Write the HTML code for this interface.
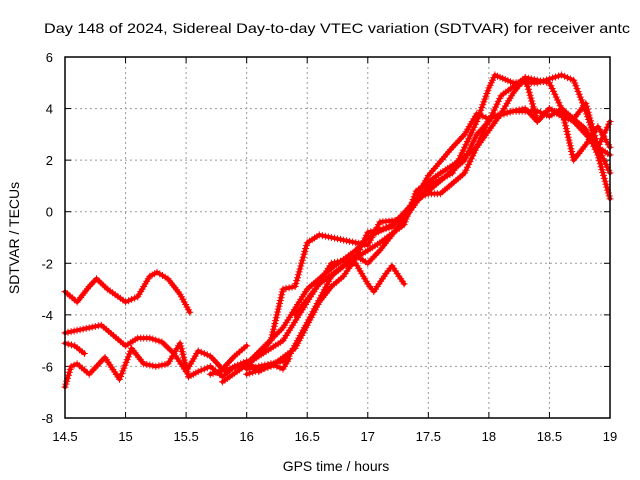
<!DOCTYPE html>
<html><head><meta charset="utf-8"><style>
body{margin:0;background:#fff;}
svg{display:block;font-family:"Liberation Sans",sans-serif;}
</style></head><body>
<svg id="chart" width="640" height="480" viewBox="0 0 640 480">
<text x="44" y="33" font-size="14" textLength="586" lengthAdjust="spacingAndGlyphs">Day 148 of 2024, Sidereal Day-to-day VTEC variation (SDTVAR) for receiver antc</text>
<text transform="translate(19,238) rotate(-90)" text-anchor="middle" font-size="14">SDTVAR / TECUs</text>
<text x="336" y="471" text-anchor="middle" font-size="14">GPS time / hours</text>
<g id="grid"></g>
<g id="ticks"></g>
<g id="series"></g>
<rect x="65" y="57" width="545" height="361" fill="none" stroke="#000" stroke-width="1.5"/>
</svg>
<script>
const xTicks=[14.5,15,15.5,16,16.5,17,17.5,18,18.5,19];
const yTicks=[-8,-6,-4,-2,0,2,4,6];
const s1x=[14.5,14.6,14.7,14.76,14.85,15.0,15.1,15.2,15.26,15.35,15.45,15.53];
const s1y=[-3.1,-3.5,-2.9,-2.6,-3.0,-3.5,-3.3,-2.5,-2.35,-2.6,-3.2,-3.9];
const s2x=[14.5,14.6,14.7,14.8,14.9,15.0,15.1,15.2,15.3,15.4,15.5,15.6,15.7,15.8,15.9,16.0];
const s2y=[-4.7,-4.6,-4.5,-4.4,-4.8,-5.2,-4.9,-4.9,-5.05,-5.5,-6.2,-5.4,-5.6,-6.1,-5.6,-5.2];
const s3x=[14.5,14.55,14.6,14.7,14.8,14.83,14.95,15.05,15.15,15.25,15.35,15.45,15.52,15.6,15.7,15.8,15.9,16.0,16.1,16.2,16.3,16.35];
const s3y=[-6.8,-6.0,-5.9,-6.3,-5.8,-5.65,-6.5,-5.3,-5.9,-6.0,-5.9,-5.1,-6.4,-6.2,-6.0,-6.4,-6.0,-5.8,-6.2,-5.9,-6.1,-5.7];
const s4x=[14.5,14.58,14.66];
const s4y=[-5.1,-5.2,-5.5];
const tax=[16.0,16.2,16.3,16.4,16.5,16.6,16.8,17.0,17.1,17.3,17.5,17.7,17.8,17.9,18.0,18.05,18.2,18.4,18.6,18.7,18.8,18.9,19.0];
const tay=[-6.0,-5.0,-3.0,-2.9,-1.2,-0.9,-1.1,-1.3,-0.4,-0.3,1.0,1.5,2.5,3.5,4.8,5.3,5.0,5.0,5.3,5.1,3.9,2.5,1.5];
const tbx=[15.7,16.0,16.3,16.5,16.7,16.9,17.0,17.2,17.4,17.6,17.8,17.9,18.0,18.1,18.3,18.5,18.6,18.7,18.8,18.9,19.0];
const tby=[-6.3,-5.9,-4.5,-3.0,-2.2,-1.5,-1.0,-0.5,0.4,1.2,2.0,3.0,3.5,4.5,5.2,5.0,4.0,2.0,2.6,3.3,2.5];
const tcx=[15.8,16.1,16.3,16.5,16.7,16.9,17.1,17.3,17.4,17.6,17.7,17.9,18.1,18.3,18.4,18.5,18.7,18.9,19.0];
const tcy=[-6.6,-5.6,-5.0,-3.5,-2.0,-1.8,-1.2,-0.5,0.8,1.5,1.8,2.5,3.8,4.0,3.5,4.0,3.5,2.5,2.2];
const tdx=[16.0,16.2,16.4,16.5,16.6,16.7,16.8,16.9,17.0,17.2,17.4,17.5,17.6,17.8,17.9,18.0,18.2,18.4,18.5,18.6,18.8,18.9,19.0];
const tdy=[-6.3,-6.0,-5.3,-4.4,-3.5,-2.9,-2.5,-1.8,-0.8,-0.6,0.5,0.7,0.7,1.5,2.5,3.6,3.9,3.9,3.7,4.0,3.2,2.2,0.5];
const tex=[16.0,16.3,16.35,16.5,16.7,16.9,17.0,17.1,17.3,17.5,17.7,17.8,17.9,18.0,18.1,18.2,18.3,18.4,18.5,18.6,18.7,18.8,18.9,19.0];
const tey=[-6.1,-5.8,-5.6,-4.3,-2.5,-1.7,-2.0,-1.5,-0.3,1.4,2.5,3.0,3.8,3.6,3.8,4.6,5.2,3.5,4.0,3.7,3.6,4.2,2.5,3.5];
const tfx=[16.4,16.6,16.8,16.9,17.0,17.05,17.15,17.2,17.3];
const tfy=[-4.0,-2.8,-2.1,-2.0,-2.8,-3.1,-2.4,-2.1,-2.8];
const seriesX=[s1x,s2x,s3x,s4x,tax,tbx,tcx,tdx,tex,tfx];
const seriesY=[s1y,s2y,s3y,s4y,tay,tby,tcy,tdy,tey,tfy];

const X0=65,X1=610,Y0=418,Y1=57;
function xs(v){return X0+(v-14.5)/(19-14.5)*(X1-X0);}
function ys(v){return Y0-(v+8)/14*(Y0-Y1);}
const NS='http://www.w3.org/2000/svg';
function mk(t,a,p){const e=document.createElementNS(NS,t);for(const k in a)e.setAttribute(k,a[k]);p.appendChild(e);return e;}
const grid=document.getElementById('grid'),ticks=document.getElementById('ticks'),ser=document.getElementById('series');
xTicks.forEach(v=>{const x=xs(v);
 if(v>14.5&&v<19){const l=mk('line',{x1:x,x2:x,y1:Y1,y2:Y0,stroke:'#999','stroke-dasharray':'2,3'},grid);
 
 }
 mk('line',{x1:x,x2:x,y1:Y0,y2:Y0-6,stroke:'#000'},ticks);
 mk('line',{x1:x,x2:x,y1:Y1,y2:Y1+6,stroke:'#000'},ticks);
 const t=mk('text',{x:x,y:Y0+23,'text-anchor':'middle','font-size':'13'},ticks);t.textContent=v;
 
 
});
yTicks.forEach(v=>{const y=ys(v);
 if(v>-8&&v<6){const l=mk('line',{x1:X0,x2:X1,y1:y,y2:y,stroke:'#999','stroke-dasharray':'2,3'},grid);
 
 }
 mk('line',{x1:X0,x2:X0+6,y1:y,y2:y,stroke:'#000'},ticks);
 mk('line',{x1:X1,x2:X1-6,y1:y,y2:y,stroke:'#000'},ticks);
 const t=mk('text',{x:X0-12,y:y+5,'text-anchor':'end','font-size':'13'},ticks);t.textContent=v;
 
 
});
seriesX.forEach((xsA,i)=>{const ysA=seriesY[i];
 const g=mk('g',{},ser);
 
 
 const pts=xsA.map((v,j)=>xs(v)+','+ys(ysA[j])).join(' ');
 mk('polyline',{points:pts,fill:'none',stroke:'#f00','stroke-width':'4','stroke-linejoin':'round','stroke-linecap':'round'},g);
 let d='';
 for(let j=0;j<xsA.length-1;j++){
  const ax=xs(xsA[j]),ay=ys(ysA[j]),bx=xs(xsA[j+1]),by=ys(ysA[j+1]);
  const n=Math.max(1,Math.round(Math.hypot(bx-ax,by-ay)/3));
  for(let k=0;k<n;k++){const x=ax+(bx-ax)*k/n,y=ay+(by-ay)*k/n;d+=`M${(x-3.5).toFixed(1)},${y.toFixed(1)}h7M${x.toFixed(1)},${(y-3.5).toFixed(1)}v7`;}
 }
 const lx=xs(xsA[xsA.length-1]),ly=ys(ysA[ysA.length-1]);
 d+=`M${lx-3.5},${ly}h7M${lx},${ly-3.5}v7`;
 mk('path',{d:d,stroke:'#f00','stroke-width':'1'},g);
});
</script>
</body></html>
